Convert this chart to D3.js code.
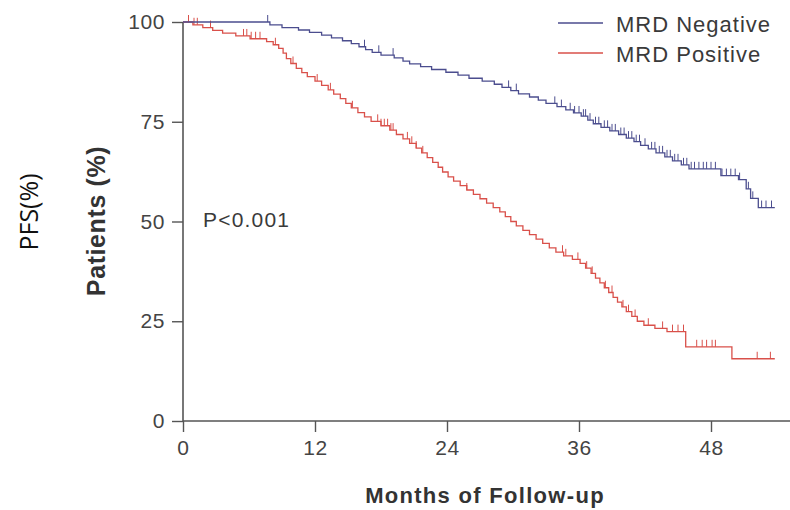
<!DOCTYPE html>
<html>
<head>
<meta charset="utf-8">
<script src="https://cdn.jsdelivr.net/npm/d3@7"></script>
<style>
  html, body { margin: 0; padding: 0; background: #fff; }
  svg { display: block; }
</style>
</head>
<body>
<svg id="chart" width="790" height="510"></svg>
<script>
// Kaplan-Meier PFS by MRD status: step events [month, survival %] and censor times
const seriesNames = ["MRD Negative", "MRD Positive"];
const xTicks = [0, 12, 24, 36, 48];
const yTicks = [0, 25, 50, 75, 100];
const followUpEnd = 53.8;

const negEvents = [
  [0, 100], [7.9, 99.3], [9.0, 98.6], [10.5, 98.0], [11.5, 97.4], [12.6, 96.7],
  [13.5, 96.0], [14.5, 95.3], [15.3, 94.6], [16.0, 93.8], [16.6, 93.1], [17.2, 92.4],
  [18.0, 91.7], [19.2, 91.0], [20.0, 90.2], [20.6, 89.5], [21.6, 88.8], [22.6, 88.1],
  [23.9, 87.4], [25.0, 86.7], [26.0, 85.9], [27.2, 85.2], [28.3, 84.4], [29.0, 83.6],
  [29.8, 82.8], [30.5, 82.0], [31.5, 81.2], [32.3, 80.4], [33.0, 79.6], [34.0, 78.8],
  [34.8, 78.0], [35.5, 77.2], [36.2, 76.4], [36.8, 75.4], [37.3, 74.5], [38.0, 73.6],
  [38.8, 72.7], [39.6, 71.8], [40.3, 70.9], [41.0, 70.0], [41.6, 69.1], [42.3, 68.2],
  [43.0, 67.2], [43.8, 66.2], [44.5, 65.2], [45.3, 64.2], [46.0, 63.2], [48.9, 61.5],
  [50.5, 60.5], [51.2, 58.2], [51.6, 55.8], [52.3, 53.5]
];
const negCensored = [
  7.7, 16.5, 17.8, 19.1, 29.6, 30.3, 33.8, 34.4, 35.2, 35.6, 36.0, 36.4, 36.6, 37.0,
  37.5, 37.8, 38.3, 38.6, 39.0, 39.3, 39.8, 40.1, 40.5, 40.8, 41.2, 41.5, 42.0, 42.6,
  42.9, 43.3, 43.6, 44.0, 44.3, 44.7, 45.0, 45.5, 45.8, 46.2, 46.5, 46.9, 47.3, 47.6,
  48.0, 48.4, 49.0, 49.4, 49.8, 50.2, 50.6, 51.4, 51.8, 52.6, 53.0, 53.5
];

const posEvents = [
  [0, 100], [0.9, 99.3], [1.8, 98.6], [2.7, 97.9], [3.6, 97.2], [4.8, 96.5],
  [6.1, 95.8], [7.6, 95.1], [8.2, 94.3], [8.7, 93.4], [9.1, 92.2], [9.4, 90.8],
  [9.8, 89.6], [10.3, 88.4], [10.8, 87.3], [11.3, 86.3], [12.0, 85.2], [12.6, 84.1],
  [13.2, 83.0], [13.7, 81.9], [14.3, 80.8], [14.8, 79.6], [15.3, 78.5], [15.9, 77.3],
  [16.5, 76.2], [17.1, 75.1], [18.0, 74.0], [18.8, 72.9], [19.4, 71.8], [20.0, 70.7],
  [20.6, 69.6], [21.2, 68.4], [21.7, 67.2], [22.2, 66.0], [22.7, 64.8], [23.2, 63.6],
  [23.6, 62.4], [24.1, 61.2], [24.6, 60.1], [25.2, 59.0], [25.8, 57.9], [26.4, 56.8],
  [27.0, 55.7], [27.6, 54.6], [28.2, 53.5], [28.8, 52.4], [29.3, 51.2], [29.8, 50.0],
  [30.3, 48.9], [30.9, 47.8], [31.5, 46.7], [32.1, 45.6], [32.7, 44.5], [33.3, 43.4],
  [33.9, 42.3], [34.6, 41.4], [35.4, 40.5], [36.1, 39.5], [36.6, 38.3], [37.1, 37.0],
  [37.5, 35.8], [37.9, 34.6], [38.3, 33.4], [38.7, 32.2], [39.1, 31.0], [39.5, 29.8],
  [39.9, 28.6], [40.3, 27.4], [40.8, 26.2], [41.3, 25.0], [41.9, 24.0], [42.9, 23.2],
  [44.0, 22.4], [45.7, 18.6], [49.9, 15.6]
];
const posCensored = [
  0.5, 1.0, 1.3, 2.5, 5.5, 5.8, 6.2, 6.6, 7.0, 8.4, 10.0, 12.2, 13.4, 15.4, 17.7,
  18.0, 18.3, 18.6, 18.9, 19.1, 20.4, 20.8, 21.2, 21.8, 25.8, 34.5, 34.8, 35.9,
  36.7, 37.2, 38.4, 39.0, 40.0, 40.5, 41.1, 42.3, 43.6, 44.5, 45.0, 45.5, 46.7,
  47.2, 47.6, 48.1, 48.4, 52.2, 53.4
];

const colors = { neg: "#4b4d8e", pos: "#d9504a" };
const axisColor = "#555";
const textColor = "#3a3a3a";
const sans = "'Liberation Sans', Arial, sans-serif";

const svg = d3.select("#chart");
const x = d3.scaleLinear().domain([0, 48]).range([183, 711]);
const y = d3.scaleLinear().domain([0, 100]).range([421, 22]);

// Axes
const yAxis = d3.axisLeft(y).tickValues(yTicks).tickSize(11).tickPadding(7);
const xAxis = d3.axisBottom(x).tickValues(xTicks).tickSize(11).tickPadding(8);

const gy = svg.append("g").attr("transform", `translate(${x(0)},0)`).call(yAxis);
gy.select(".domain").attr("d", `M0,${y(100)}V${y(0)}`);

const gx = svg.append("g").attr("transform", `translate(0,${y(0)})`).call(xAxis);
gx.select(".domain").attr("d", `M${x(0)},0H790`);

[gx, gy].forEach(g => {
  g.select(".domain").attr("stroke", axisColor).attr("stroke-width", 1.6);
  g.selectAll(".tick line").attr("stroke", axisColor).attr("stroke-width", 1.4);
  g.selectAll(".tick text")
    .attr("fill", "#444")
    .style("font-family", sans)
    .style("font-size", "21px")
    .style("letter-spacing", "0.6px");
});

// Survival step curves
function survivalAt(events, t) {
  let s = events[0][1];
  for (const [et, es] of events) { if (et <= t) s = es; else break; }
  return s;
}

function drawCurve(events, censored, color) {
  const pts = events.concat([[followUpEnd, events[events.length - 1][1]]]);
  const line = d3.line()
    .x(d => x(d[0]))
    .y(d => y(d[1]))
    .curve(d3.curveStepAfter);
  svg.append("path")
    .datum(pts)
    .attr("d", line)
    .attr("fill", "none")
    .attr("stroke", color)
    .attr("stroke-width", 1.3);

  svg.append("g")
    .selectAll("line")
    .data(censored)
    .join("line")
    .attr("x1", d => x(d))
    .attr("x2", d => x(d))
    .attr("y1", d => y(survivalAt(events, d)))
    .attr("y2", d => y(survivalAt(events, d)) - 7)
    .attr("stroke", color)
    .attr("stroke-width", 1);
}

drawCurve(posEvents, posCensored, colors.pos);
drawCurve(negEvents, negCensored, colors.neg);

// Legend
const legend = svg.append("g");
[[seriesNames[0], colors.neg, 23], [seriesNames[1], colors.pos, 53]].forEach(([name, c, ly]) => {
  legend.append("line")
    .attr("x1", 558).attr("x2", 603).attr("y1", ly).attr("y2", ly)
    .attr("stroke", c).attr("stroke-width", 1.6);
  legend.append("text")
    .attr("x", 616).attr("y", ly + 9)
    .attr("fill", textColor)
    .style("font-family", sans)
    .style("font-size", "22px")
    .style("letter-spacing", "1px")
    .text(name);
});

// Annotation
svg.append("text")
  .attr("x", 203).attr("y", 227)
  .attr("fill", textColor)
  .style("font-family", sans)
  .style("font-size", "21px")
  .style("letter-spacing", "1.2px")
  .text("P<0.001");

// Axis titles
svg.append("text")
  .attr("transform", "translate(105,221) rotate(-90)")
  .attr("text-anchor", "middle")
  .attr("fill", "#333")
  .style("font-family", sans)
  .style("font-size", "25px")
  .style("font-weight", "bold")
  .style("letter-spacing", "0.6px")
  .text("Patients (%)");

svg.append("text")
  .attr("transform", "translate(38,212) rotate(-90)")
  .attr("text-anchor", "middle")
  .attr("fill", "#111")
  .style("font-family", "'Open Sans', 'Noto Sans', sans-serif")
  .style("font-size", "25px")
  .text("PFS(%)");

svg.append("text")
  .attr("x", 485).attr("y", 503)
  .attr("text-anchor", "middle")
  .attr("fill", "#333")
  .style("font-family", sans)
  .style("font-size", "22px")
  .style("font-weight", "bold")
  .style("letter-spacing", "1.3px")
  .text("Months of Follow-up");
</script>
</body>
</html>
